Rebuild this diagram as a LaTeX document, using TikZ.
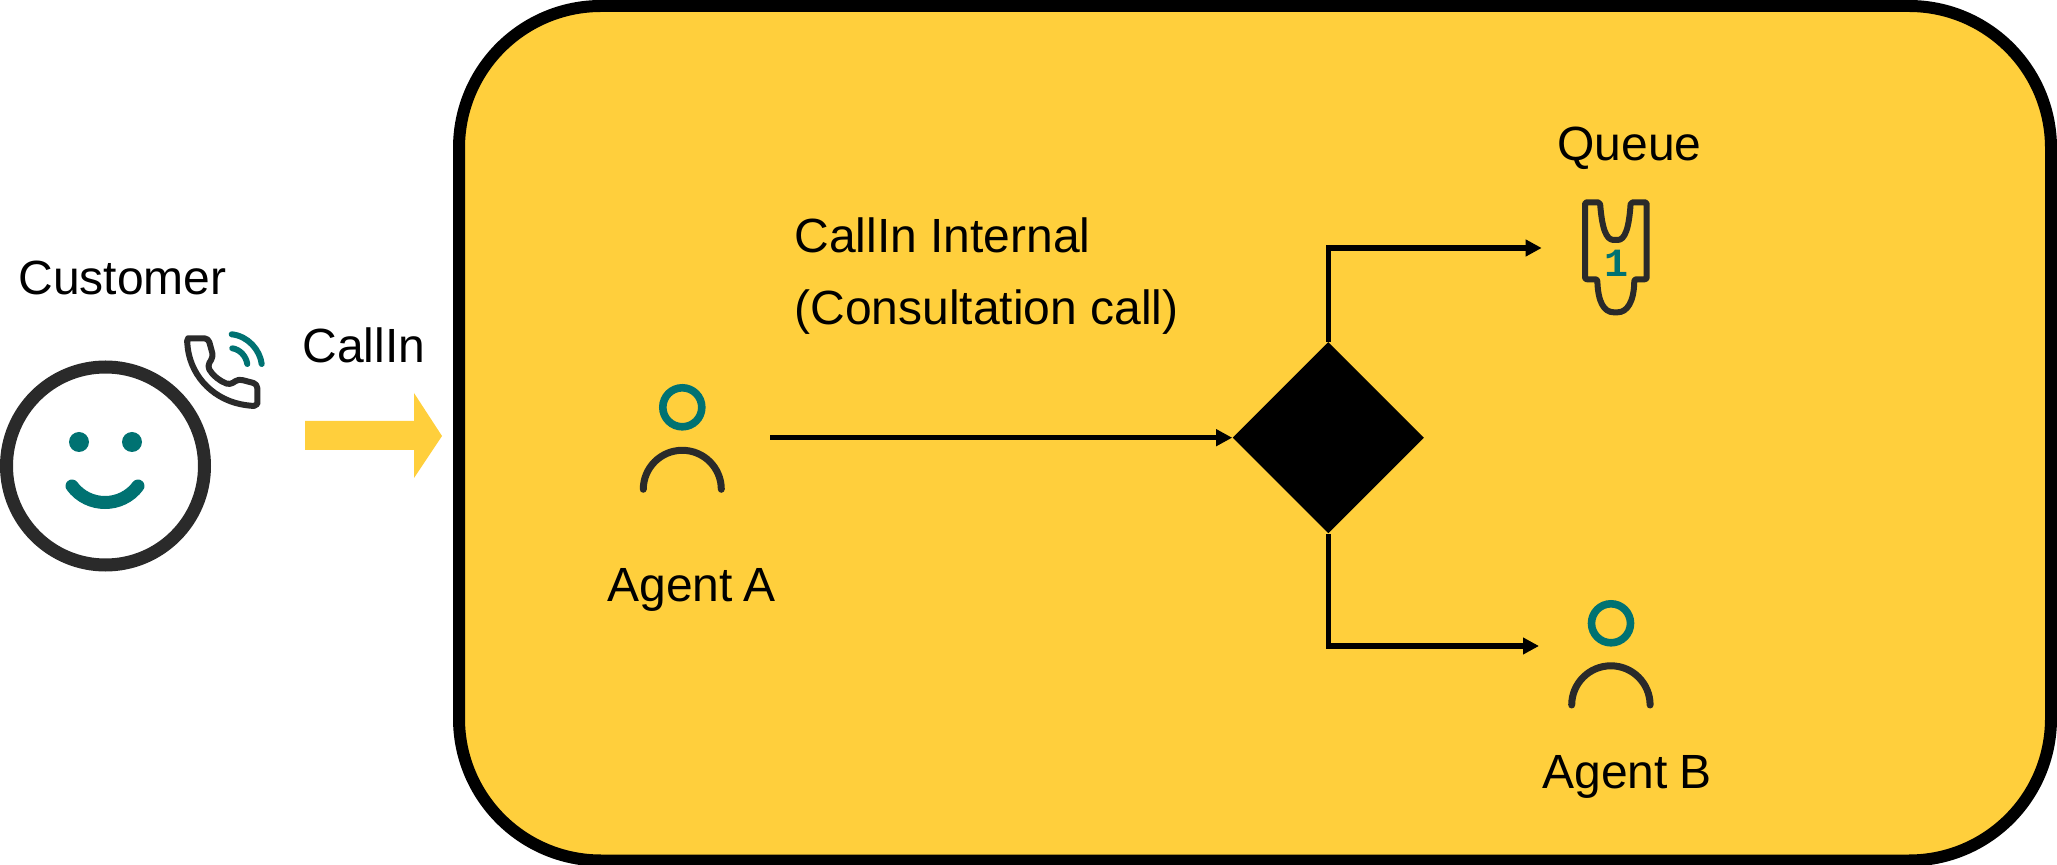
\documentclass[tikz,border=0pt]{standalone}
\usepackage{fontspec}
\setmainfont{Liberation Sans}
\setmonofont{Liberation Mono}
\usetikzlibrary{arrows.meta, shapes.geometric}
\definecolor{callyellow}{HTML}{FFCF3C}
\definecolor{iconteal}{HTML}{007272}
\definecolor{icondark}{HTML}{2A2A2A}
\tikzset{
x=0.5pt, y=-0.5pt, % one unit is one pixel of the reference, y runs down
>={Triangle[length=8pt, width=8pt]}, % filled arrow heads
flow/.style={->, line width=2.7pt}, % black connectors
lbl/.style={inner sep=0pt, anchor=base west, font=\fontsize{24}{28}\selectfont}, % sets the text labels
head/.style={circle, draw=iconteal, line width=3.8pt, inner sep=0pt, minimum size=19.5pt}, % head of an agent
shoulder/.style={draw=icondark, line width=3.5pt, line cap=round}, % shoulders of an agent
wave/.style={draw=iconteal, line width=3pt, line cap=round}, % signal above the phone
}

\begin{document}
\begin{tikzpicture}
    \useasboundingbox (0,0) rectangle (2057,865);

    % the yellow area
    \draw[draw=black, fill=callyellow, line width=6pt, rounded corners=71pt] (459,6) rectangle (2051,860.5);

    % customer
    \node[lbl] (customer) at (18,295) {Customer};
    \node[circle, draw=icondark, line width=6.5pt, inner sep=0pt, minimum size=99pt] (face) at (105.5,466) {};
    \node[circle, fill=iconteal, inner sep=0pt, minimum size=10pt] (eyeL) at (79,442) {};
    \node[circle, fill=iconteal, inner sep=0pt, minimum size=10pt] (eyeR) at (132,442) {};
    \draw[wave, line width=6.5pt] (72,486) .. controls (88.4,508) and (121.6,508) .. (138,486);

    % phone
    \draw[icondark, line width=3pt, rounded corners=2pt, line join=round]
      (187.3,345) .. controls (187,340) and (189,338.3) .. (192,338.3)
      -- (208.3,338.3) -- (213.3,356.7) -- (207.3,366)
      .. controls (213,376) and (220,381) .. (230,385)
      -- (238.3,379) -- (257.3,384) -- (257.3,400)
      .. controls (257.3,404) and (254,406) .. (250,405.7)
      .. controls (215,401) and (192,378) .. (187.3,345) -- cycle;
    \draw[wave] (231.7,334.3) .. controls (248,336) and (260,350) .. (261.7,364);
    \draw[wave] (232.3,348.3) .. controls (240,349.5) and (246,356) .. (247.3,364);

    % call coming in
    \node[lbl] (callIn) at (302,363) {CallIn};
    \fill[callyellow] (305,421) -- (414,421) -- (414,393) -- (442,436) -- (414,478) -- (414,450) -- (305,450) -- cycle;

    % agent A
    \node[head] (agentA) at (682.3,407.3) {};
    \draw[shoulder] (643.3,489.3) arc[start angle=180, end angle=0, radius=19.5pt];
    \node[lbl] (agentALabel) at (607,601.7) {Agent\kern-1.4pt\ A};

    % consultation text
    \node[lbl] (internal) at (794,253) {CallIn Internal};
    \node[lbl] (consult) at (794,325) {(Consultation call)};

    % decision and connectors
    \node[diamond, fill=black, aspect=1, inner sep=0pt, minimum width=95.7pt, minimum height=95.7pt] (decision) at (1328.3,437.7) {};
    \coordinate (agentAOut) at (770,437.7);
    \coordinate (queueIn) at (1541.7,248);
    \coordinate (agentBIn) at (1539,646);
    \draw[flow] (agentAOut) -- (decision.west);
    \draw[flow] (decision.north) |- (queueIn);
    \draw[flow] (decision.south) |- (agentBIn);

    % queue
    \node[lbl] (queue) at (1557,161) {Queue};
    \draw[icondark, line width=3pt, rounded corners=1pt, line join=round]
      (1585,202.3) -- (1600,202.3)
      .. controls (1602,228) and (1606,240) .. (1615.7,240)
      .. controls (1625,240) and (1629,228) .. (1630.7,202.3)
      -- (1646.7,202.3) -- (1646.7,279.3) -- (1634.3,279.3)
      .. controls (1634,302) and (1627,312.3) .. (1615.7,312.3)
      .. controls (1604,312.3) and (1598,302) .. (1597.3,279.3)
      -- (1585,279.3) -- cycle;
    \node[inner sep=0pt, anchor=base, text=iconteal, font=\fontsize{20}{24}\selectfont\ttfamily\bfseries] (queueNum) at (1616,277) {1};

    % agent B
    \node[head] (agentB) at (1611,623.3) {};
    \draw[shoulder] (1571.7,705) arc[start angle=180, end angle=0, radius=19.6pt];
    \node[lbl] (agentBLabel) at (1542,789) {Agent\kern-0.6pt\ B};
\end{tikzpicture}
\end{document}
